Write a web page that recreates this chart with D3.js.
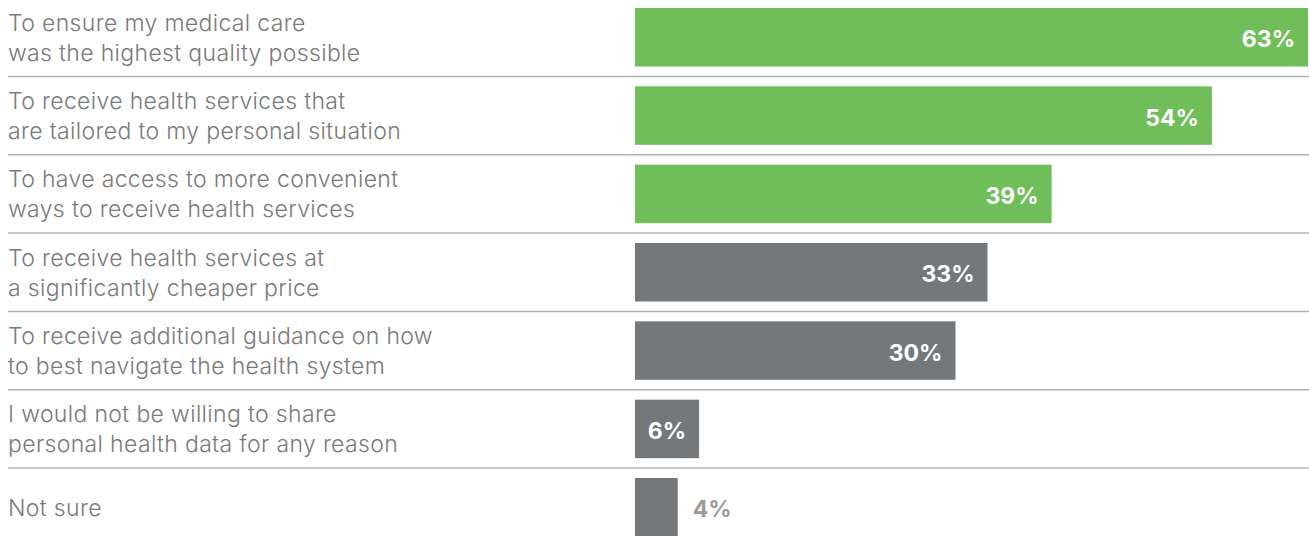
<!DOCTYPE html>
<html>
<head>
<meta charset="utf-8">
<script src="https://cdn.jsdelivr.net/npm/d3@7"></script>
<style>
  html, body { margin: 0; padding: 0; background: #ffffff; }
  svg { display: block; }
</style>
</head>
<body>
<svg id="chart" width="1309" height="536"></svg>
<script>
const categories = [
  ["To ensure my medical care", "was the highest quality possible"],
  ["To receive health services that", "are tailored to my personal situation"],
  ["To have access to more convenient", "ways to receive health services"],
  ["To receive health services at", "a significantly cheaper price"],
  ["To receive additional guidance on how", "to best navigate the health system"],
  ["I would not be willing to share", "personal health data for any reason"],
  ["Not sure"]
];
const values = [63, 54, 39, 33, 30, 6, 4];
const highlighted = [true, true, true, false, false, false, false];
const valueLabels = ["63%", "54%", "39%", "33%", "30%", "6%", "4%"];

const W = 1309, H = 536;
const svg = d3.select("#chart");
const font = "Inter, 'Noto Sans', sans-serif";

const ids = d3.range(values.length);
const y = d3.scaleBand().domain(ids).range([8, 536.5]).paddingInner(0.253).paddingOuter(0);
const x = d3.scaleLinear().domain([0, 63]).range([635, 1308]);
const step = y.step(), bw = y.bandwidth();

// separators
svg.selectAll("line.sep").data(ids.slice(0, -1)).join("line")
  .attr("class", "sep")
  .attr("x1", 8).attr("x2", W)
  .attr("y1", d => y(d) + bw + (step - bw) / 2)
  .attr("y2", d => y(d) + bw + (step - bw) / 2)
  .attr("stroke", "#b4b4b4").attr("stroke-width", 1.5);

// bars
svg.selectAll("rect.bar").data(ids).join("rect")
  .attr("class", "bar")
  .attr("x", x(0))
  .attr("y", d => y(d))
  .attr("width", d => x(values[d]) - x(0))
  .attr("height", bw)
  .attr("fill", d => highlighted[d] ? "#6fbe5a" : "#75787b");

// category labels
const lab = svg.selectAll("text.cat").data(ids).join("text")
  .attr("class", "cat")
  .attr("font-family", font)
  .attr("font-size", 23)
  .attr("font-weight", 300)
  .attr("letter-spacing", 0.35)
  .attr("fill", "#7a7a7a");
lab.each(function(d) {
  const lines = categories[d];
  const c = y(d) + bw / 2;
  const t = d3.select(this);
  if (lines.length === 1) {
    t.append("tspan").attr("x", 8).attr("y", c + 8.5).text(lines[0]);
  } else {
    t.append("tspan").attr("x", 8).attr("y", c - 6.5).text(lines[0]);
    t.append("tspan").attr("x", 8).attr("y", c + 23.5).text(lines[1]);
  }
});

// value labels
svg.selectAll("text.val").data(ids).join("text")
  .attr("class", "val")
  .attr("font-family", font)
  .attr("font-size", 23)
  .attr("font-weight", 700)
  .attr("fill", d => (x(values[d]) - x(0)) > 50 ? "#ffffff" : "#9a9a9a")
  .attr("text-anchor", d => (x(values[d]) - x(0)) > 50 ? "end" : "start")
  .attr("x", d => (x(values[d]) - x(0)) > 50 ? x(values[d]) - 13 : x(values[d]) + 15)
  .attr("y", d => y(d) + bw / 2 + 10)
  .text(d => valueLabels[d]);
</script>
</body>
</html>
